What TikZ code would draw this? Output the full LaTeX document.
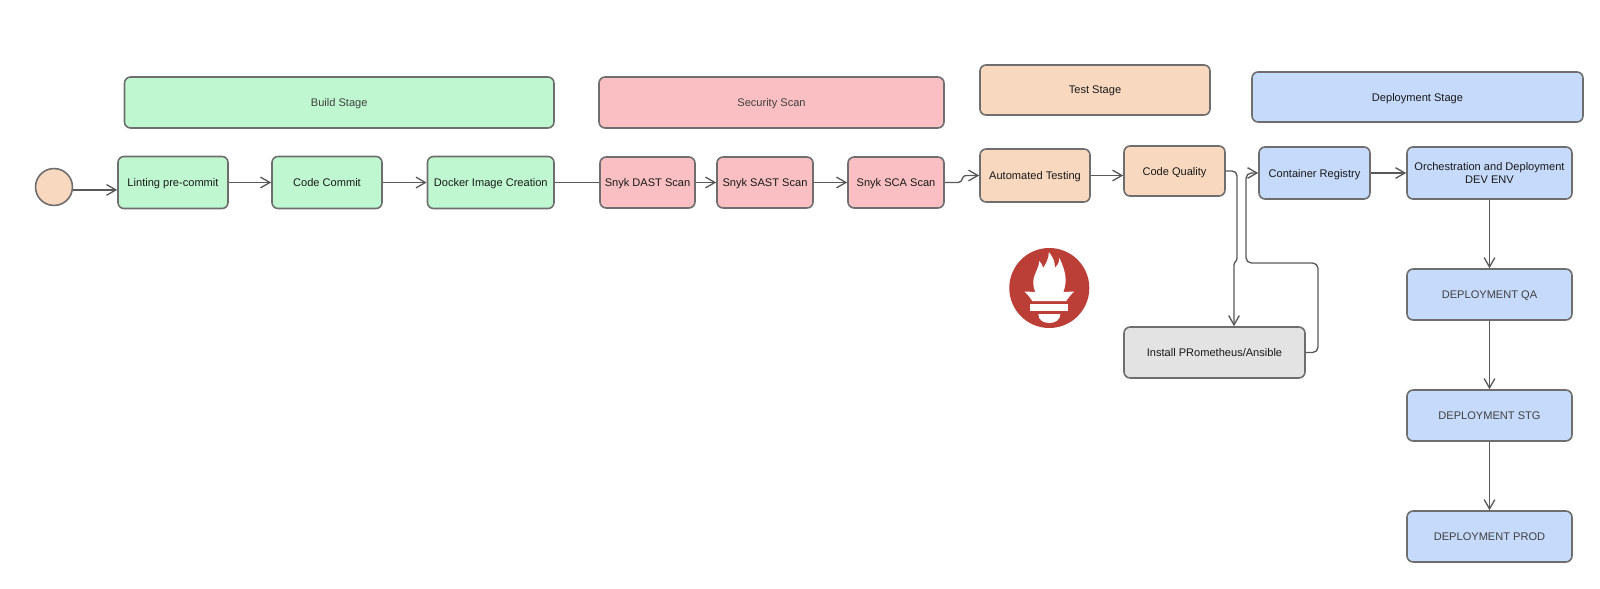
\documentclass[tikz,border=0pt]{standalone}
\usepackage{fontspec}
\setmainfont{Liberation Sans}
\usetikzlibrary{arrows.meta}
\definecolor{stagegreen}{HTML}{BFF8D0}
\definecolor{stagered}{HTML}{F9BFC2}
\definecolor{stageorange}{HTML}{F8D8BF}
\definecolor{stageblue}{HTML}{C6DAFB}
\definecolor{stagegray}{HTML}{E3E3E3}
\definecolor{promred}{HTML}{BC3F37}
\definecolor{edgegray}{HTML}{6E6E6E}
\tikzset{
  box/.style={draw=edgegray,line width=1.2pt,rounded corners=4.5pt,inner sep=0pt,align=center,
    font=\fontsize{8.3}{10}\selectfont,text=black!90,text depth=0pt},
  head/.style={box,text=black!75},
  flow/.style={draw=black!65,line width=1pt,-{Straight Barb[length=7pt,width=8pt]}},
}
\begin{document}
\begin{tikzpicture}[x=0.75pt,y=-0.75pt]
\useasboundingbox (0,0) rectangle (1600,589);

% stage headers
\node[head,fill=stagegreen,minimum width=322.1pt,minimum height=38.2pt] (build) at (339.25,102.5) {Build Stage};
\node[head,fill=stagered,minimum width=258.7pt,minimum height=38.2pt] (security) at (771.5,102.5) {Security Scan};
\node[box,fill=stageorange,minimum width=172.5pt,minimum height=37.5pt] (test) at (1095,90) {Test Stage};
\node[box,fill=stageblue,minimum width=248.2pt,minimum height=37.5pt] (deploy) at (1417.5,97) {Deployment Stage};

\node[circle,draw=edgegray,line width=1.2pt,fill=stageorange,minimum size=27.7pt,inner sep=0pt] (start) at (54,187) {};

% pipeline steps
\foreach \name/\cx/\boxw/\lbl in {lint/173/82.5/Linting pre-commit,commit/327/82.5/Code Commit,docker/490.75/94.9/Docker Image Creation}
    \node[box,fill=stagegreen,minimum width=\boxw pt,minimum height=39pt] (\name) at (\cx,182.5) {\lbl};
\foreach \name/\cx/\boxw/\lbl in {dast/647.5/71.2/Snyk DAST Scan,sast/765/72/Snyk SAST Scan,sca/896/72/Snyk SCA Scan}
    \node[box,fill=stagered,minimum width=\boxw pt,minimum height=38.2pt] (\name) at (\cx,182.5) {\lbl};

\node[box,fill=stageorange,minimum width=82.5pt,minimum height=39.7pt] (auto) at (1035,175.5) {Automated Testing};
\node[box,fill=stageorange,minimum width=75.7pt,minimum height=37.5pt] (quality) at (1174.5,171) {Code Quality};
\node[box,fill=stagegray,minimum width=135.7pt,minimum height=38.2pt] (install) at (1214.5,352.5) {Install PRometheus/Ansible};
\node[box,fill=stageblue,minimum width=83.2pt,minimum height=39pt] (registry) at (1314.5,173) {Container Registry};
\node[box,fill=stageblue,minimum width=123.7pt,minimum height=39pt] (orch) at (1489.5,173) {Orchestration and Deployment\\DEV ENV};

\foreach \name/\cy/\lbl in {qa/294.5/DEPLOYMENT QA,stg/415.5/DEPLOYMENT STG,prod/536.5/DEPLOYMENT PROD}
    \node[head,fill=stageblue,minimum width=123.7pt,minimum height=38.2pt] (\name) at (1489.5,\cy) {\lbl};

% connectors
\coordinate (jog) at (1234,265);
\draw[flow] ([yshift=-2.2pt]start.east) -- ([yshift=-2.2pt]start.east -| lint.west);
\foreach \src/\dst in {lint/commit,commit/docker,dast/sast,sast/sca,auto/quality,registry/orch}
    \draw[flow] (\src.east) -- (\src.east -| \dst.west);
\draw[draw=black!65,line width=1.1pt] (docker) -- (dast);
\draw[flow] (sca.east) -- (958,182.5) .. controls (964,182.5) and (960,175.5) .. (967,175.5) -- (auto.west);
\draw[flow] (quality.east) -- (1232,171) .. controls (1235,171) and (1237,173) .. (1237,176) -- (1237,258) .. controls (1237,262) and (1234,261) .. (jog) -- (jog |- install.north);
\draw[flow,rounded corners=4pt] (install.east) -- (1318,352.5) -- (1318,263) -- (1246,263) -- (1246,173) -- (registry.west);
\foreach \src/\dst in {orch/qa,qa/stg,stg/prod}
    \draw[flow] (\src) -- (\dst);

% prometheus logo
\begin{scope}[shift={(1049.3,288)}]
\fill[promred] (0,0) circle (40);
\fill[white] (-25,3.5) -- (-14,4) .. controls (-15,1) and (-16,-1) .. (-16,-4)
    .. controls (-17,-12) and (-10,-20) .. (-10,-27)
    .. controls (-8,-25) and (-7,-23) .. (-6,-20)
    .. controls (-4,-24) and (-0.5,-28) .. (-0.5,-36)
    .. controls (4,-30) and (6,-26) .. (5.5,-20)
    .. controls (8,-22) and (10,-25) .. (10,-30)
    .. controls (17,-16) and (18,-6) .. (14,4) -- (25,3.5)
    .. controls (21,7) and (19,10) .. (17,13) -- (-17,13)
    .. controls (-19,10) and (-21,7) .. (-25,3.5) -- cycle;
\fill[white] (-19,16) rectangle (19,23);
\fill[white] (-11,26) -- (11,26) .. controls (11,32) and (6,35) .. (0,35) .. controls (-6,35) and (-11,32) .. (-11,26) -- cycle;
\end{scope}

\end{tikzpicture}
\end{document}
